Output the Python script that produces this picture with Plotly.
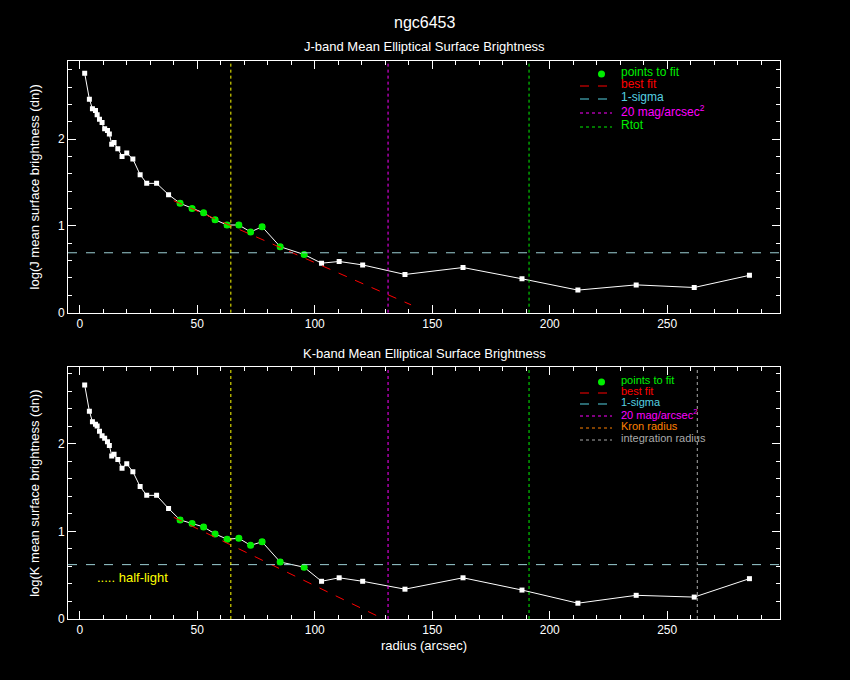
import plotly.graph_objects as go
from plotly.subplots import make_subplots

# radius (arcsec) shared by both bands
radius = [2.1, 4.1, 5.4, 6.7, 7.4, 8.4, 9.5, 10.6, 11.8, 12.6, 13.6, 14.6, 16.2, 18.0, 20.0,
          22.6, 25.7, 28.5, 32.7, 37.8, 42.7, 47.8, 52.7, 57.6, 62.7, 67.7, 72.7, 77.6,
          85.3, 95.5, 102.9, 110.4, 120.4, 138.4, 163.1, 188.2, 212.0, 236.8, 261.5, 285.0]
j_sb = [2.76, 2.46, 2.35, 2.33, 2.28, 2.23, 2.19, 2.12, 2.10, 2.06, 1.94, 1.96, 1.89, 1.80, 1.84,
        1.77, 1.59, 1.49, 1.49, 1.36, 1.26, 1.20, 1.15, 1.07, 1.01, 1.01, 0.93, 0.99,
        0.76, 0.67, 0.57, 0.59, 0.55, 0.44, 0.52, 0.39, 0.26, 0.32, 0.29, 0.43]
k_sb = [2.67, 2.37, 2.25, 2.22, 2.20, 2.14, 2.09, 2.06, 2.02, 1.98, 1.86, 1.88, 1.82, 1.72, 1.77,
        1.68, 1.51, 1.41, 1.41, 1.26, 1.13, 1.09, 1.05, 0.97, 0.91, 0.92, 0.84, 0.88,
        0.65, 0.59, 0.43, 0.47, 0.43, 0.34, 0.47, 0.33, 0.18, 0.27, 0.25, 0.46]
fit_idx = list(range(20, 30))

j_fit_r, j_fit_v = [40.0, 141.0], [1.29, 0.09]
k_fit_r, k_fit_v = [40.0, 128.5], [1.16, 0.01]
j_sigma, k_sigma = 0.69, 0.62
r_half, r_20mag, r_tot, r_kron = 64.3, 131.2, 191.2, 262.8

fig = make_subplots(rows=2, cols=1, vertical_spacing=0.098)
font = "Liberation Sans"

for row, sb, fr, fv in [(1, j_sb, j_fit_r, j_fit_v), (2, k_sb, k_fit_r, k_fit_v)]:
    fig.add_trace(go.Scatter(x=radius, y=sb, mode="lines+markers",
                             line=dict(color="white", width=1),
                             marker=dict(color="white", size=5, symbol="square")), row=row, col=1)
    fig.add_trace(go.Scatter(x=[radius[i] for i in fit_idx], y=[sb[i] for i in fit_idx],
                             mode="markers", marker=dict(color="#00ee00", size=7)), row=row, col=1)
    fig.add_trace(go.Scatter(x=fr, y=fv, mode="lines",
                             line=dict(color="red", width=1, dash="dash")), row=row, col=1)

for row, sig in [(1, j_sigma), (2, k_sigma)]:
    fig.add_hline(y=sig, line=dict(color="#9ccfd4", width=1, dash="dash"), row=row, col=1)
    fig.add_vline(x=r_half, line=dict(color="yellow", width=1, dash="dot"), row=row, col=1)
    fig.add_vline(x=r_20mag, line=dict(color="magenta", width=1, dash="dot"), row=row, col=1)
    fig.add_vline(x=r_tot, line=dict(color="#00ee00", width=1, dash="dot"), row=row, col=1)
fig.add_vline(x=r_kron, line=dict(color="#aaaaaa", width=1, dash="dot"), row=2, col=1)

axis = dict(range=[-5, 298], showgrid=False, zeroline=False, showline=True, linecolor="white",
            mirror="allticks", ticks="inside", ticklen=8, tickcolor="white", dtick=50,
            minor=dict(ticks="inside", ticklen=4, dtick=10, tickcolor="white"),
            tickfont=dict(color="white", size=12, family=font))
yaxis = dict(axis, dtick=1, minor=dict(ticks="inside", ticklen=4, dtick=0.2, tickcolor="white"))
fig.update_xaxes(**axis)
fig.update_yaxes(**yaxis)
fig.update_yaxes(range=[0, 2.9], title=dict(text="log(J mean surface brightness (dn))",
                 font=dict(color="white", size=13, family=font)), row=1, col=1)
fig.update_yaxes(range=[0, 2.87], title=dict(text="log(K mean surface brightness (dn))",
                 font=dict(color="white", size=13, family=font)), row=2, col=1)
fig.update_xaxes(title=dict(text="radius (arcsec)", font=dict(color="white", size=13, family=font),
                 standoff=4), row=2, col=1)

ann = []
def txt(x, y, s, color="white", size=13, anchor="center"):
    ann.append(dict(x=x, y=y, xref="paper", yref="paper", text=s, showarrow=False,
                    xanchor=anchor, yanchor="middle", font=dict(color=color, size=size, family=font)))

W, H, L, B = 712, 558, 68, 61
px = lambda p: (p - L) / W
py = lambda p: (680 - B - p) / H
txt(px(424), py(22), "ngc6453", size=16)
txt(px(424), py(46), "J-band Mean Elliptical Surface Brightness")
txt(px(424), py(353), "K-band Mean Elliptical Surface Brightness")

shapes = []
def sample(y, color, dash, marker=False):
    if marker:
        shapes.append(dict(type="circle", xref="paper", yref="paper", x0=px(598), x1=px(605),
                           y0=py(y + 3.5), y1=py(y - 3.5), fillcolor=color, line=dict(width=0)))
    else:
        shapes.append(dict(type="line", xref="paper", yref="paper", x0=px(580), x1=px(612),
                           y0=py(y), y1=py(y), line=dict(color=color, width=1, dash=dash)))

top = [("points to fit", "#00ee00", None), ("best fit", "red", "dash"), ("1-sigma", "#55d0e0", "dash"),
       ("20 mag/arcsec<sup>2</sup>", "magenta", "dot"), ("Rtot", "#00ee00", "dot")]
for i, (s, c, d) in enumerate(top):
    y = [72, 84, 97, 111, 125][i]
    txt(px(619), py(y), s, color=c, size=12, anchor="left")
    sample(y + 2, c, d, marker=d is None)
bot = [("points to fit", "#00ee00", None), ("best fit", "red", "dash"), ("1-sigma", "#55d0e0", "dash"),
       ("20 mag/arcsec<sup>2</sup>", "magenta", "dot"), ("Kron radius", "#ff8000", "dot"),
       ("integration radius", "#aaaaaa", "dot")]
for i, (s, c, d) in enumerate(bot):
    y = [380, 391, 402, 414, 426, 438][i]
    txt(px(619), py(y), s, color=c, size=11, anchor="left")
    sample(y + 2, c, d, marker=d is None)
txt(px(95), py(577), "..... half-light", color="yellow", size=13, anchor="left")

fig.update_layout(width=850, height=680, paper_bgcolor="black", plot_bgcolor="black",
                  showlegend=False, margin=dict(l=L, r=850 - L - W, t=61, b=B),
                  annotations=list(fig.layout.annotations) + ann, shapes=list(fig.layout.shapes) + shapes)
fig.write_html("out.html", config=dict(displayModeBar=False),
               post_script="document.body.style.margin='0';document.body.style.background='black';")
